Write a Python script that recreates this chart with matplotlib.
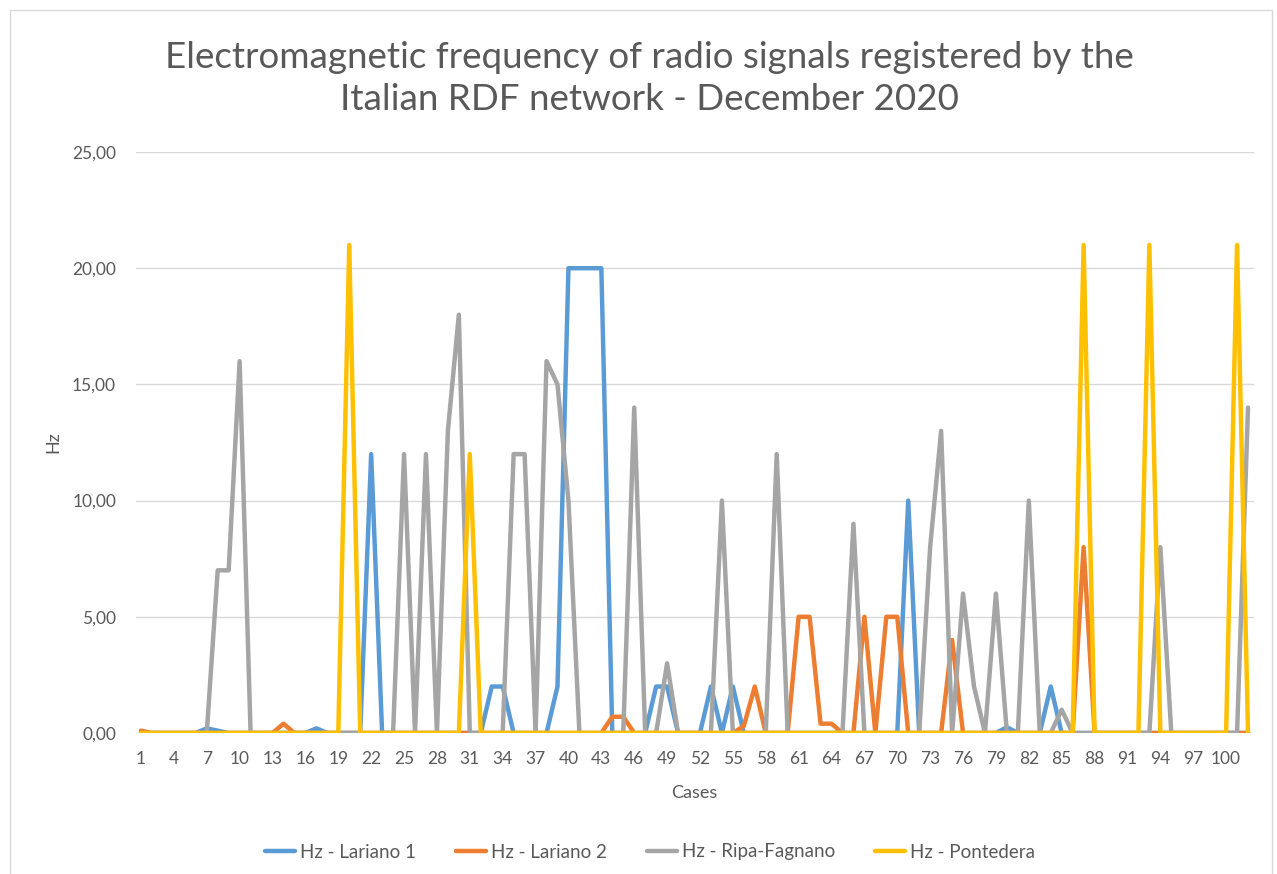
import matplotlib.pyplot as plt
from matplotlib.patches import Rectangle
from matplotlib.ticker import FuncFormatter

plt.rcParams['font.family'] = ['Lato', 'DejaVu Sans']

cases = list(range(1, 103))

# values read per case (1..102)
lariano_1 = [
    0, 0, 0, 0, 0, 0, 0.2, 0.1, 0, 0,
    0, 0, 0, 0, 0, 0, 0.2, 0, 0, 0,
    0, 12, 0, 0, 0, 0, 0, 0, 0, 0,
    0, 0, 2, 2, 0, 0, 0, 0, 2, 20,
    20, 20, 20, 0, 0, 0, 0, 2, 2, 0,
    0, 0, 2, 0, 2, 0, 0, 0, 0, 0,
    0, 0, 0, 0, 0, 0, 0, 0, 0, 0,
    10, 0, 0, 0, 0, 0, 0, 0, 0, 0.25,
    0, 0, 0, 2, 0, 0, 0, 0, 0, 0,
    0, 0, 0, 0, 0, 0, 0, 0, 0, 0,
    0, 0,
]
lariano_2 = [
    0.1, 0, 0, 0, 0, 0, 0, 0, 0, 0,
    0, 0, 0, 0.4, 0, 0, 0, 0, 0, 0,
    0, 0, 0, 0, 0, 0, 0, 0, 0, 0,
    0, 0, 0, 0, 0, 0, 0, 0, 0, 0,
    0, 0, 0, 0.7, 0.7, 0, 0, 0, 0, 0,
    0, 0, 0, 0, 0, 0.3, 2, 0, 0, 0,
    5, 5, 0.4, 0.4, 0, 0, 5, 0, 5, 5,
    0, 0, 0, 0, 4, 0, 0, 0, 0, 0,
    0, 0, 0, 0, 0, 0, 8, 0, 0, 0,
    0, 0, 0, 0, 0, 0, 0, 0, 0, 0,
    0, 0,
]
ripa_fagnano = [
    0, 0, 0, 0, 0, 0, 0, 7, 7, 16,
    0, 0, 0, 0, 0, 0, 0, 0, 0, 0,
    0, 0, 0, 0, 12, 0, 12, 0, 13, 18,
    0, 0, 0, 0, 12, 12, 0, 16, 15, 10,
    0, 0, 0, 0, 0, 14, 0, 0, 3, 0,
    0, 0, 0, 10, 0, 0, 0, 0, 12, 0,
    0, 0, 0, 0, 0, 9, 0, 0, 0, 0,
    0, 0, 8, 13, 0, 6, 2, 0, 6, 0,
    0, 10, 0, 0, 1, 0, 0, 0, 0, 0,
    0, 0, 0, 8, 0, 0, 0, 0, 0, 0,
    0, 14,
]
pontedera = [
    0, 0, 0, 0, 0, 0, 0, 0, 0, 0,
    0, 0, 0, 0, 0, 0, 0, 0, 0, 21,
    0, 0, 0, 0, 0, 0, 0, 0, 0, 0,
    12, 0, 0, 0, 0, 0, 0, 0, 0, 0,
    0, 0, 0, 0, 0, 0, 0, 0, 0, 0,
    0, 0, 0, 0, 0, 0, 0, 0, 0, 0,
    0, 0, 0, 0, 0, 0, 0, 0, 0, 0,
    0, 0, 0, 0, 0, 0, 0, 0, 0, 0,
    0, 0, 0, 0, 0, 0, 21, 0, 0, 0,
    0, 0, 21, 0, 0, 0, 0, 0, 0, 0,
    21, 0,
]

series = [
    ("Hz - Lariano 1", lariano_1, "#5B9BD5"),
    ("Hz - Lariano 2", lariano_2, "#ED7D31"),
    ("Hz - Ripa-Fagnano", ripa_fagnano, "#A5A5A5"),
    ("Hz - Pontedera", pontedera, "#FFC000"),
]

W, H = 1277, 874
fig = plt.figure(figsize=(W / 100, H / 100), dpi=100)
left, right, top, bottom = 135.5, 1253.5, 152, 733
ax = fig.add_axes([left / W, 1 - bottom / H, (right - left) / W, (bottom - top) / H])

for name, vals, col in series:
    ax.plot(cases, vals, color=col, lw=3.2, label=name,
            solid_joinstyle="round", solid_capstyle="round")

ax.set_xlim(0.5, 102.5)
ax.set_ylim(0, 25)
ax.set_xticks(range(1, 103, 3))
ax.set_yticks(range(0, 26, 5))
ax.yaxis.set_major_formatter(FuncFormatter(lambda v, p: f"{v:.2f}".replace(".", ",")))
ax.grid(axis="y", color="#D9D9D9", lw=1)
ax.set_axisbelow(True)
for s in ax.spines.values():
    s.set_visible(False)
ax.tick_params(length=0, labelsize=12.5, labelcolor="#595959")
ax.tick_params(axis="x", pad=13)
ax.tick_params(axis="y", pad=14)
ax.set_xlabel("Cases", fontsize=13, color="#595959", labelpad=13)
ax.set_ylabel("Hz", fontsize=13, color="#595959", labelpad=8)

fig.text(649 / W, 1 - 78.5 / H,
         "Electromagnetic frequency of radio signals registered by the\nItalian RDF network - December 2020",
         ha="center", va="center", fontsize=26.5, color="#595959", linespacing=1.34)

ax.legend(loc="center", bbox_to_anchor=(650 / W, 1 - 852 / H), bbox_transform=fig.transFigure,
          ncol=4, frameon=False, fontsize=13.5, labelcolor="#595959",
          handlelength=1.6, columnspacing=2.1, handletextpad=0.3)

fig.patches.append(Rectangle((10 / W, -0.1), (1272 - 10) / W, (H - 10) / H + 0.1,
                             transform=fig.transFigure, fill=False,
                             edgecolor="#D9D9D9", lw=1))

fig.savefig("out.png", dpi=100, facecolor="white")
